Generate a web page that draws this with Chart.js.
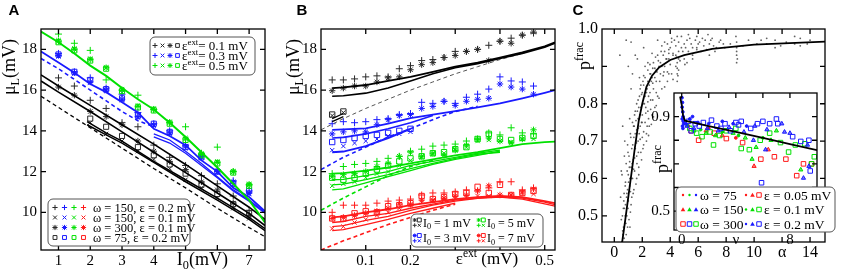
<!DOCTYPE html>
<html>
<head>
<meta charset="utf-8" />
<title>mu_L and p_frac</title>
<script src="https://cdn.jsdelivr.net/npm/chart.js"></script>
<style>
  body { margin: 0; background: #fff; }
  #wrap { position: relative; width: 851px; height: 276px; overflow: hidden; }
  canvas { position: absolute; }
</style>
</head>
<body>
<div id="wrap">
  <canvas id="chartA" width="290" height="276" style="left:0;top:0"></canvas>
  <canvas id="chartB" width="288" height="276" style="left:282px;top:0"></canvas>
  <canvas id="chartC" width="281" height="276" style="left:570px;top:0"></canvas>
  <canvas id="chartI" width="210" height="170" style="left:630px;top:80px"></canvas>
</div>
<script>
// ---------- panel A : mu_L vs I0 ----------
const aX = [1, 1.5, 2, 2.5, 3, 3.5, 4, 4.5, 5, 5.5, 6, 6.5, 7];
const aX2 = [2, 2.5, 3, 3.5, 4, 4.5, 5, 5.5, 6, 6.5, 7];
const aGreenPlus = [18.75, 18.3, 17.95, 16.5, 16.0, 15.75, 15.05, 14.4, 14.2, 12.9, 13.2, 12.0, 11.35];
const aGreenStar = [18.4, 18.0, 17.5, 17.1, 16.0, 15.2, 15.05, 14.4, 13.6, 12.85, 12.45, 12.0, 11.35];
const aGreenSq = [18.35, 17.95, 17.45, 17.05, 15.95, 15.15, 15.0, 14.35, 13.55, 12.8, 12.4, 11.95, 11.3];
const aGreenX = [18.45, 18.05, 17.55, 17.1, 16.05, 15.25, 15.1, 14.45, 13.65, 12.9, 12.5, 12.0, 11.4];
const aBluePlus = [17.8, 16.9, 16.6, 16.1, 15.8, 14.9, 14.35, 14.0, 13.3, 12.85, 12.1, 11.55, 11.05];
const aBlueStar = [17.7, 16.85, 16.4, 16.0, 15.55, 14.7, 14.3, 13.9, 13.25, 12.75, 12.0, 11.5, 10.95];
const aBlueSq = [17.75, 16.9, 16.5, 16.05, 15.6, 14.75, 14.35, 13.95, 13.2, 12.7, 12.0, 11.4, 11.05];
const aBlueX = [17.65, 16.8, 16.35, 15.95, 15.5, 14.65, 14.25, 13.85, 13.15, 12.7, 11.95, 11.35, 10.9];
const aBlackPlus = [16.6, 16.2, 15.5, 15.1, 14.4, 14.2, 13.3, 12.7, 12.3, 11.8, 11.4, 10.8, 10.1];
const aBlackStar = [16.15, 15.75, 14.95, 14.7, 14.3, 13.5, 13.0, 12.5, 12.1, 11.5, 11.1, 10.45, 9.85];
const aBlackSq = [14.6, 14.2, 13.75, 13.2, 12.8, 12.35, 11.9, 11.35, 10.9, 10.4, 9.95];
const aBlackX = [14.4, 13.85, 13.5, 13.0, 12.6, 12.15, 11.6, 11.2, 10.7, 10.2, 9.7];

const aLineX = [0.45, 1, 1.5, 2, 2.5, 3, 3.5, 4, 4.5, 5, 5.5, 6, 6.5, 7, 7.5];
const aGreenLine = [18.87, 18.35, 17.8, 17.2, 16.7, 16.1, 15.55, 15.05, 14.4, 13.7, 12.95, 12.2, 11.4, 10.6, 9.5];
const aBlueLine = [17.9, 17.35, 16.85, 16.3, 15.9, 15.4, 14.9, 14.1, 13.75, 13.3, 12.55, 12.0, 11.2, 10.75, 10.05];
const aBlueLateX = [4, 4.5, 5, 5.5, 6, 6.5, 7, 7.5];
const aBlueLate1 = [13.85, 13.55, 13.0, 12.4, 11.75, 11.1, 10.6, 10.0];
const aBlueLate2 = [13.7, 13.4, 12.9, 12.3, 11.7, 11.05, 10.55, 9.95];
const aBlueDashX = [0.45, 1, 2, 3, 3.5, 4];
const aBlueDash = [17.55, 17.05, 16.0, 14.95, 14.5, 14.2];
const aBlackX9 = [0.45, 1, 2, 3, 4, 5, 6, 7, 7.5];
const aBlack1 = [16.75, 16.2, 15.25, 14.3, 13.35, 12.35, 11.3, 10.25, 9.65];
const aBlack2 = [16.45, 15.9, 14.95, 13.95, 12.95, 11.95, 10.95, 9.95, 9.35];
const aBlackLateX = [1.9, 2.5, 3, 4, 5, 6, 7, 7.5];
const aBlack3 = [14.45, 13.9, 13.5, 12.5, 11.6, 10.7, 9.75, 9.2];
const aBlack4 = [14.3, 13.8, 13.4, 12.45, 11.5, 10.6, 9.65, 9.1];
const aBlackDash = [15.7, 15.15, 14.15, 13.15, 12.15, 11.2, 10.2, 9.25, 8.8];
const aXTicks = [1, 2, 3, 4, 5, 6, 7];
const aYTicks = [10, 12, 14, 16, 18];

// ---------- panel B : mu_L vs eps_ext ----------
const epsB = [0.025, 0.05, 0.075, 0.1, 0.125, 0.15, 0.175, 0.2, 0.225, 0.25, 0.275, 0.3, 0.325, 0.35, 0.375, 0.4, 0.425, 0.45, 0.475];
const bBlackPlus = [16.5, 16.5, 16.55, 16.65, 16.7, 16.65, 17.05, 17.2, 17.45, 17.5, 17.6, 17.9, 17.9, 18.0, 18.2, 18.4, 18.55, 18.7, 18.8];
const bBlackStar = [15.97, 16.1, 16.2, 16.2, 16.4, 16.6, 16.65, 17.0, 17.25, 17.35, 17.6, 17.7, 17.9, 18.0, 17.45, 18.4, 18.3, 18.7, 18.85];
const bBlackSq = [14.8, 14.95];
const bBlackX = [14.75, 14.9];
const bBluePlus = [14.35, 14.45, 14.4, 14.45, 14.55, 14.6, 14.8, 14.85, 15.4, 15.35, 15.45, 15.35, 15.65, 15.8, 16.05, 16.65, 16.45, 16.4, 16.2];
const bBlueStar = [13.85, 13.95, 14.0, 13.95, 14.3, 14.55, 14.75, 14.8, 15.1, 15.2, 15.45, 15.25, 15.45, 15.55, 15.6, 16.3, 16.15, 16.05, 15.8];
const bBlueSq = [13.45, 13.55, 13.65, 13.75, 13.8, 13.9, 14.0, 14.1];
const bBlueX = [13.05, 13.25, 13.4, 13.5, 13.6, 13.75, 13.85, 13.95];
const bGreenPlus = [11.9, 12.25, 12.35, 12.4, 12.5, 12.65, 12.75, 13.0, 13.1, 13.25, 13.3, 13.35, 13.5, 13.6, 13.9, 13.8, 14.15, 13.9, 13.85];
const bGreenStar = [11.75, 11.85, 11.9, 12.0, 12.25, 12.4, 12.75, 12.95, 12.75, 12.9, 12.8, 13.05, 13.3, 13.6, 13.65, 13.5, 13.4, 13.6, 14.05];
const bGreenSq = [11.7, 11.6, 11.7, 11.9, 12.1, 12.3, 12.5, 12.65, 12.75, 12.9, 12.95, 13.1, 13.2, 13.6, 13.85, 13.6, 13.55, 13.65, 13.75];
const bGreenX = [11.3, 11.4, 11.5, 11.7, 11.9, 12.0, 12.3, 12.55, 12.7, 12.85, 12.9, 13.1, 13.2, 13.5, 13.55, 13.5, 13.45, 13.6, 13.6];
const bRedPlus = [10.0, 10.35, 10.35, 10.35, 10.45, 10.55, 10.6, 10.65, 10.85, 10.95, 10.95, 11.0, 11.1, 11.05, 11.2, 11.5, 11.5, 11.1, 11.2];
const bRedStar = [9.7, 9.75, 9.85, 9.95, 10.05, 10.2, 10.4, 10.4, 10.6, 10.6, 10.7, 10.8, 10.85, 11.05, 11.3, 10.85, 10.85, 11.0, 11.15];
const bRedSq = [9.7, 9.7, 9.95, 10.05, 10.0, 10.3, 10.35, 10.45, 10.8, 10.65, 10.75, 10.9, 10.95, 11.25, 10.95, 11.35, 10.85, 10.95, 11.05];
const bRedX = [9.2, 9.3, 9.5, 9.65, 9.85, 10.0, 10.2, 10.35, 10.5, 10.55, 10.6, 10.7, 10.75, 10.8, 10.8, 10.85, 10.85, 10.95, 10.9];

const bLineX = [0.025, 0.05, 0.1, 0.15, 0.2, 0.25, 0.3, 0.35, 0.4, 0.45, 0.5, 0.523];
const bBlackTop = [16.1, 16.13, 16.25, 16.45, 16.65, 16.9, 17.15, 17.35, 17.6, 17.85, 18.15, 18.35];
const bBlackLow = [15.7, 15.72, 15.85, 16.1, 16.45, 16.8, 17.1, 17.3, 17.55, 17.8, 18.1, 18.3];
const bShortX = [0.025, 0.05];
const bBlackShort1 = [14.45, 14.7];
const bBlackShort2 = [14.6, 14.85];
const bDashX = [0, 0.05, 0.1, 0.15, 0.2, 0.25, 0.3, 0.35, 0.4, 0.45, 0.523];
const bBlackDash = [14.05, 14.6, 15.1, 15.55, 16.0, 16.4, 16.8, 17.15, 17.5, 17.8, 18.3];
const bBlueTop = [14.05, 14.07, 14.12, 14.35, 14.62, 14.8, 14.97, 15.15, 15.35, 15.6, 15.87, 16.0];
const bBlueMidX = [0.025, 0.05, 0.1, 0.15, 0.2, 0.25];
const bBlueMid = [13.65, 13.68, 13.85, 14.1, 14.4, 14.75];
const bBlueLowX = [0.025, 0.05, 0.1, 0.15, 0.2];
const bBlueLow = [12.95, 12.98, 13.25, 13.65, 14.1];
const bBlueDashX = [0, 0.05, 0.1, 0.15, 0.2, 0.25, 0.3, 0.35];
const bBlueDash = [12.1, 12.7, 13.2, 13.7, 14.1, 14.55, 14.95, 15.2];
const bGreenTop = [11.9, 11.92, 12.05, 12.2, 12.4, 12.6, 12.8, 12.95, 13.15, 13.35, 13.45, 13.47];
const bGreenX9 = [0.025, 0.05, 0.1, 0.15, 0.2, 0.25, 0.3, 0.35, 0.4];
const bGreen2 = [11.6, 11.62, 11.8, 12.0, 12.3, 12.5, 12.7, 12.9, 13.05];
const bGreen3 = [11.35, 11.38, 11.6, 11.85, 12.15, 12.4, 12.65, 12.85, 12.95];
const bGreen4 = [11.1, 11.15, 11.45, 11.75, 12.05, 12.35, 12.6, 12.8, 13.0];
const bGreenDashX = [0, 0.05, 0.1, 0.15, 0.2, 0.25];
const bGreenDash = [10.1, 10.7, 11.25, 11.8, 12.25, 12.55];
const bRedTop = [9.75, 9.8, 10.0, 10.15, 10.35, 10.5, 10.65, 10.75, 10.8, 10.75, 10.55, 10.45];
const bRed2 = [9.5, 9.55, 9.8, 9.95, 10.2, 10.4, 10.6, 10.7, 10.78, 10.7, 10.5, 10.38];
const bRed3 = [9.3, 9.35, 9.6, 9.8, 10.1, 10.35, 10.55, 10.68, 10.75, 10.65, 10.42, 10.3];
const bRed4X = [0.025, 0.05, 0.1, 0.15, 0.2, 0.25, 0.3];
const bRed4 = [9.1, 9.15, 9.4, 9.65, 9.95, 10.2, 10.45];
const bRedDashX = [0, 0.05, 0.1, 0.15, 0.2, 0.25, 0.3];
const bRedDash = [8.15, 8.6, 9.0, 9.4, 9.75, 10.1, 10.4];
const bXTicks = [0.1, 0.2, 0.3, 0.4, 0.5];
const bXLabelled = [0.1, 0.2, 0.5];

// ---------- panel C : p_frac vs alpha ----------
const cCurveX = [0.45, 0.75, 1.0, 1.25, 1.5, 1.75, 2.0, 2.3, 2.7, 3.2, 4.0, 5.0, 7.0, 10.0, 15.1];
const cCurveY = [0.40, 0.48, 0.55, 0.62, 0.69, 0.755, 0.80, 0.845, 0.875, 0.897, 0.917, 0.93, 0.947, 0.958, 0.966];
const cCloud = [
  [0.55,0.43],[0.7,0.44],[0.85,0.45],[0.6,0.46],[0.95,0.47],[0.75,0.48],[1.05,0.49],[0.5,0.49],[0.9,0.50],[1.15,0.51],
  [0.65,0.52],[0.8,0.53],[1.0,0.54],[1.25,0.55],[0.7,0.56],[0.95,0.57],[1.4,0.57],[1.1,0.58],[0.8,0.59],[1.3,0.60],
  [1.6,0.60],[0.55,0.61],[1.0,0.61],[1.45,0.62],[1.2,0.63],[1.75,0.63],[0.85,0.64],[1.35,0.65],[1.6,0.66],[1.05,0.66],
  [1.9,0.67],[1.25,0.68],[1.5,0.68],[2.1,0.69],[0.95,0.69],[1.7,0.70],[1.4,0.71],[2.0,0.71],[1.15,0.72],[2.3,0.72],
  [1.6,0.73],[1.85,0.74],[2.5,0.74],[1.3,0.75],[2.2,0.75],[1.7,0.76],[2.0,0.77],[2.7,0.77],[1.5,0.78],[2.4,0.78],
  [1.9,0.79],[2.9,0.79],[2.15,0.80],[1.6,0.80],[2.6,0.81],[1.8,0.82],[3.1,0.82],[2.3,0.83],[2.0,0.83],[2.8,0.84],
  [3.4,0.84],[1.9,0.85],[2.5,0.85],[3.0,0.86],[3.8,0.86],[2.2,0.87],[2.7,0.87],[3.3,0.88],[4.1,0.88],[2.4,0.89],
  [3.0,0.89],[3.6,0.90],[4.4,0.90],[2.8,0.91],[3.3,0.91],[3.9,0.92],[5.0,0.92],[4.4,0.93],[3.1,0.93],[3.6,0.94],
  [5.3,0.94],[4.0,0.95],[4.6,0.94],[5.6,0.95],[6.2,0.94],[6.8,0.96],[7.3,0.95],[5.0,0.96],[4.3,0.97],[5.8,0.97],
  [6.5,0.97],[7.6,0.97],[4.8,0.98],[5.4,0.975],[6.0,0.96],[7.0,0.975],[3.8,0.96],[3.4,0.955],[4.2,0.93],[4.5,0.86],
  [4.5,0.88],[4.5,0.895],[4.5,0.91],[8.7,0.98],[8.75,0.965],[8.75,0.95],[8.75,0.94],[8.75,0.93],[8.8,0.92],[10.9,0.975],
  [10.9,0.96],[11.5,0.97],[11.5,0.95],[12.9,0.98],[12.9,0.96],[13.3,0.975],[13.3,0.955],[9.6,0.97],[10.2,0.96],[0.85,0.97],
  [1.3,0.88],[1.0,0.90],[1.5,0.93],[0.6,0.74],[0.5,0.62],[0.75,0.70],[2.4,0.91],[1.2,0.84],[3.9,0.88],[5.6,0.92],
  [6.8,0.93],[0.62,0.45],[0.78,0.5],[0.88,0.55],[1.12,0.6],[1.28,0.64],[1.55,0.7],[1.78,0.72],[1.95,0.75],[2.25,0.79],
  [2.45,0.82],[2.65,0.86],[3.2,0.9],[3.7,0.92],[4.8,0.95],[5.2,0.97],[6.4,0.955],[7.8,0.96],[0.72,0.52],[1.08,0.63],
  [1.42,0.74],[1.65,0.78],[2.05,0.86],[2.55,0.88],[2.9,0.895],[3.5,0.93],[4.1,0.965],[4.7,0.915],[5.9,0.945],[7.2,0.94],
  [0.48,0.42],[0.66,0.47],[0.83,0.48],[1.12,0.47],[0.58,0.5],[0.98,0.52],[1.2,0.53],[0.68,0.54],[1.35,0.56],[0.9,0.56],
  [1.15,0.565],[0.78,0.58],[1.55,0.585],[1.02,0.59],[1.22,0.6],[1.75,0.61],[0.92,0.62],[1.38,0.625],[1.62,0.64],[1.1,0.645],
  [1.95,0.65],[1.45,0.655],[0.98,0.67],[1.72,0.67],[2.05,0.68],[1.32,0.69],[1.58,0.695],[2.3,0.70],[1.85,0.705],[1.18,0.71],
  [2.45,0.715],[1.5,0.72],[2.1,0.725],[1.72,0.735],[2.35,0.74],[1.38,0.74],[2.65,0.745],[1.98,0.75],[1.55,0.755],[2.45,0.76],
  [2.8,0.765],[1.82,0.77],[2.25,0.775],[1.45,0.77],[2.6,0.785],[1.75,0.79],[3.0,0.795],[2.05,0.80],[2.4,0.805],[2.75,0.81],
  [1.7,0.81],[3.2,0.815],[2.2,0.82],[1.95,0.825],[2.55,0.83],[3.0,0.83],[2.35,0.84],[3.6,0.845],[1.85,0.84],[2.1,0.85],
  [2.75,0.855],[3.25,0.86],[2.4,0.86],[4.2,0.865],[2.9,0.87],[3.5,0.875],[2.1,0.875],[2.6,0.88],[3.8,0.885],[3.05,0.885],
  [4.6,0.89],[2.75,0.895],[3.4,0.9],[4.0,0.905],[2.55,0.905],[5.2,0.91],[3.15,0.915],[3.75,0.92],[4.6,0.92],[2.95,0.925],
  [4.2,0.935],[5.6,0.93],[3.35,0.94],[4.9,0.94],[3.9,0.945],[5.9,0.95],[6.6,0.945],[4.4,0.955],[5.1,0.95],[7.1,0.955],
  [6.1,0.965],[3.6,0.965],[4.6,0.965],[5.5,0.96],[7.5,0.965],[6.9,0.97],[5.9,0.98],[4.1,0.975],[6.3,0.975],[7.9,0.95],
  [5.3,0.985],[4.5,0.98],[3.9,0.935],[6.7,0.985],[2.2,0.9],[1.8,0.87],[1.1,0.76],[0.72,0.66],[0.45,0.55],[1.65,0.92],
  [2.1,0.95],[1.2,0.965],[0.4,0.93],[3.1,0.97],[2.7,0.935],[8.3,0.96],[9.2,0.955],[10.5,0.97],[12.3,0.965],[14.0,0.97],
  [11.9,0.955],[13.8,0.96],[8.75,0.91],[4.55,0.875],[4.45,0.925],[5.05,0.905],[3.55,0.885]
];
const cXTicks = [0, 2, 4, 6, 8, 10, 12, 14];
const cYTicks = [0.5, 0.6, 0.7, 0.8, 0.9, 1.0];

// ---------- inset of C : p_frac vs nu ----------
const iLineX = [-0.12, 0.0, 0.1, 0.24, 2, 4, 6, 8, 10];
const iLineY = [0.985, 0.95, 0.905, 0.883, 0.86, 0.835, 0.81, 0.784, 0.758];
const iBlueDot = [[0.02,0.98],[0.05,0.96],[0.03,0.94],[0.08,0.92],[0.1,0.90],[0.04,0.89],[0.12,0.88],[0.06,0.86],[0.15,0.87],[0.09,0.85],[0.3,0.87],[0.6,0.89],[1.2,0.875],[2.0,0.87],[3.0,0.88],[3.8,0.87],[4.8,0.86],[0.8,0.90]];
const iBlueSq = [[0.5,0.88],[1.0,0.87],[1.6,0.875],[2.2,0.885],[2.6,0.86],[3.2,0.87],[4.0,0.875],[4.4,0.88],[5.1,0.85],[5.6,0.87],[6.5,0.87],[7.1,0.87],[8.2,0.815],[8.8,0.795],[9.4,0.80],[9.5,0.67],[5.9,0.62],[6.0,0.88],[7.0,0.89],[4.2,0.865],[1.3,0.86],[2.9,0.85],[3.6,0.84],[0.7,0.84]];
const iBlueTri = [[0.4,0.86],[0.9,0.85],[1.9,0.85],[2.7,0.84],[3.5,0.855],[4.6,0.835],[5.4,0.86],[6.3,0.845],[7.6,0.835],[7.4,0.87],[8.0,0.83],[9.0,0.64],[9.4,0.69],[6.2,0.76],[5.3,0.80],[9.3,0.78]];
const iGreenSq = [[0.6,0.85],[1.5,0.815],[2.35,0.78],[2.1,0.835],[3.3,0.84],[4.4,0.765],[5.0,0.76],[6.5,0.83],[7.3,0.79],[7.9,0.75],[8.4,0.78],[9.1,0.785],[9.8,0.73],[9.6,0.70],[4.0,0.85],[5.8,0.80],[2.8,0.82],[1.1,0.83]];
const iGreenTri = [[0.9,0.84],[1.8,0.83],[2.5,0.82],[3.8,0.83],[4.7,0.81],[5.5,0.77],[6.6,0.80],[7.0,0.84],[8.8,0.675],[5.2,0.72]];
const iGreenDot = [[0.4,0.865],[1.4,0.845],[3.0,0.835],[4.2,0.82],[6.0,0.81]];
const iRedSq = [[1.25,0.80],[3.3,0.807],[4.5,0.79],[5.85,0.72],[6.85,0.73],[7.7,0.72],[9.0,0.70],[8.5,0.65],[9.6,0.70],[2.4,0.83],[0.7,0.84]];
const iRedTri = [[5.35,0.69],[1.8,0.84],[3.0,0.82],[6.4,0.76]];
const iRedDot = [[0.5,0.86],[2.0,0.85],[4.0,0.81]];
const iXTicks = [0, 2, 4, 6, 8, 10];
const iYTicks = [0.5, 0.6, 0.7, 0.8, 0.9];

// colours
const BLK = '#2a2a2a', BLU = '#1a1aff', GRN = '#00e000', RED = '#ff1a1a';
const SERIF = '"Liberation Serif", "DejaVu Serif", serif';

function pts(xs, ys) { return xs.map((x, i) => ({ x: x, y: ys[i] })); }
function pairs(list) { return list.map(p => ({ x: p[0], y: p[1] })); }

function line(xs, ys, color, width, dash) {
    return { data: pts(xs, ys), showLine: true, pointRadius: 0, borderColor: color, borderWidth: width || 1.6, borderDash: dash || [], fill: false };
}
function marks(data, color, style, r, fillCol) {
    return { data: data, showLine: false, pointStyle: style, pointRadius: r || 3, borderColor: color, backgroundColor: fillCol || 'rgba(0,0,0,0)', borderWidth: 1 };
}

// text with sub / superscripts, parts = [[text, 0 normal | 1 sub | 2 sup]]
function rich(ctx, parts, x, y, size, align, rot) {
    ctx.save();
    ctx.translate(x, y);
    if (rot) ctx.rotate(rot);
    ctx.fillStyle = '#000';
    ctx.textBaseline = 'alphabetic';
    ctx.textAlign = 'left';
    const fonts = parts.map(p => (p[1] ? size * 0.68 : size) + 'px ' + SERIF);
    let w = 0;
    parts.forEach((p, i) => { ctx.font = fonts[i]; w += ctx.measureText(p[0]).width; });
    let cx = align === 'center' ? -w / 2 : (align === 'right' ? -w : 0);
    parts.forEach((p, i) => {
        ctx.font = fonts[i];
        const dy = p[1] === 1 ? size * 0.22 : (p[1] === 2 ? -size * 0.4 : 0);
        ctx.fillText(p[0], cx, dy + size * 0.35);
        cx += ctx.measureText(p[0]).width;
    });
    ctx.restore();
}

// legend marker
function mark(ctx, style, x, y, r, color) {
    ctx.save();
    ctx.strokeStyle = color; ctx.fillStyle = color; ctx.lineWidth = 1;
    ctx.beginPath();
    if (style === 'cross' || style === 'star') { ctx.moveTo(x - r, y); ctx.lineTo(x + r, y); ctx.moveTo(x, y - r); ctx.lineTo(x, y + r); }
    if (style === 'crossRot' || style === 'star') { const d = r * 0.75; ctx.moveTo(x - d, y - d); ctx.lineTo(x + d, y + d); ctx.moveTo(x - d, y + d); ctx.lineTo(x + d, y - d); }
    if (style === 'rect') { const d = r * 0.75; ctx.rect(x - d, y - d, 2 * d, 2 * d); }
    ctx.stroke();
    if (style === 'circle') { ctx.beginPath(); ctx.arc(x, y, r, 0, Math.PI * 2); ctx.fill(); }
    if (style === 'triangle') { ctx.beginPath(); ctx.moveTo(x, y - r); ctx.lineTo(x + r, y + r * 0.8); ctx.lineTo(x - r, y + r * 0.8); ctx.closePath(); ctx.fill(); }
    ctx.restore();
}

function box(ctx, x, y, w, h) {
    ctx.save();
    ctx.beginPath();
    ctx.roundRect(x, y, w, h, 5);
    ctx.fillStyle = '#fff'; ctx.fill();
    ctx.strokeStyle = '#555'; ctx.lineWidth = 1; ctx.stroke();
    ctx.restore();
}

function letter(ctx, s, x, y) {
    ctx.save();
    ctx.font = 'bold 15px "Liberation Sans", Arial, sans-serif';
    ctx.fillStyle = '#000'; ctx.textBaseline = 'middle'; ctx.textAlign = 'center';
    ctx.fillText(s, x, y);
    ctx.restore();
}

// box around the plot with inward ticks on all sides
const frame = {
    id: 'frame',
    beforeDatasetsDraw(chart, args, opts) {
        if (!opts.white) return;
        const a = chart.chartArea, ctx = chart.ctx;
        ctx.save(); ctx.fillStyle = '#fff'; ctx.fillRect(a.left, a.top, a.right - a.left, a.bottom - a.top); ctx.restore();
    },
    afterDatasetsDraw(chart, args, opts) {
        const a = chart.chartArea, ctx = chart.ctx, x = chart.scales.x, y = chart.scales.y;
        const t = opts.tick || 5;
        ctx.save();
        ctx.strokeStyle = '#000'; ctx.lineWidth = 1.3;
        ctx.strokeRect(a.left, a.top, a.right - a.left, a.bottom - a.top);
        ctx.beginPath();
        x.ticks.forEach(k => {
            const p = x.getPixelForValue(k.value);
            if (p > a.left + 1 && p < a.right - 1) { ctx.moveTo(p, a.bottom); ctx.lineTo(p, a.bottom - t); ctx.moveTo(p, a.top); ctx.lineTo(p, a.top + t); }
        });
        y.ticks.forEach(k => {
            const p = y.getPixelForValue(k.value);
            if (p > a.top + 1 && p < a.bottom - 1) { ctx.moveTo(a.left, p); ctx.lineTo(a.left + t, p); ctx.moveTo(a.right, p); ctx.lineTo(a.right - t, p); }
        });
        ctx.stroke();
        ctx.restore();
    }
};
Chart.register(frame);

function makeChart(id, geo, sx, sy, datasets, deco, white) {
    const cv = document.getElementById(id);
    return new Chart(cv.getContext('2d'), {
        type: 'scatter',
        data: { datasets: datasets },
        options: {
            responsive: false, animation: false, devicePixelRatio: 1,
            layout: { autoPadding: false, padding: { left: 0, top: geo.top, right: cv.width - geo.right, bottom: 0 } },
            plugins: { legend: { display: false }, tooltip: { enabled: false }, frame: { white: white } },
            elements: { line: { tension: 0 } },
            scales: {
                x: {
                    type: 'linear', min: sx.min, max: sx.max,
                    afterBuildTicks: s => { s.ticks = sx.ticks.map(v => ({ value: v })); },
                    afterFit: s => { s.height = cv.height - geo.bottom; },
                    grid: { display: false, drawTicks: false }, border: { display: false },
                    ticks: { autoSkip: false, maxRotation: 0, padding: sx.pad, color: '#000', font: { family: SERIF, size: sx.size }, callback: sx.label }
                },
                y: {
                    type: 'linear', min: sy.min, max: sy.max,
                    afterBuildTicks: s => { s.ticks = sy.ticks.map(v => ({ value: v })); },
                    afterFit: s => { s.width = geo.left; },
                    grid: { display: false, drawTicks: false }, border: { display: false },
                    ticks: { autoSkip: false, padding: sy.pad, color: '#000', font: { family: SERIF, size: sy.size }, callback: sy.label }
                }
            }
        },
        plugins: [{ id: 'deco', afterDraw: deco }]
    });
}

// ---------- A ----------
makeChart('chartA', { left: 41, right: 265, top: 29, bottom: 250 },
    { min: 0.45, max: 7.5, ticks: aXTicks, pad: 2, size: 15, label: v => (v === 5 || v === 6) ? '' : v },
    { min: 8.15, max: 19.0, ticks: aYTicks, pad: 4, size: 15, label: v => v },
    [
        line(aLineX, aGreenLine, GRN, 2),
        line(aLineX, aBlueLine, BLU, 1.8),
        line(aBlueLateX, aBlueLate1, BLU, 1.3),
        line(aBlueLateX, aBlueLate2, BLU, 1.3),
        line(aBlueDashX, aBlueDash, BLU, 1.6, [4, 3]),
        line(aBlackX9, aBlack1, '#000', 1.6),
        line(aBlackX9, aBlack2, '#000', 1.6),
        line(aBlackLateX, aBlack3, '#000', 1.5),
        line(aBlackLateX, aBlack4, '#000', 1.5),
        line(aBlackX9, aBlackDash, '#000', 1.3, [4, 3]),
        marks(pts(aX, aGreenPlus), GRN, 'cross', 3.5),
        marks(pts(aX, aGreenStar), GRN, 'star', 3.2),
        marks(pts(aX, aGreenSq), GRN, 'rect', 3.6),
        marks(pts(aX, aGreenX), GRN, 'crossRot', 3),
        marks(pts(aX, aBluePlus), BLU, 'cross', 3.5),
        marks(pts(aX, aBlueStar), BLU, 'star', 3.2),
        marks(pts(aX, aBlueSq), BLU, 'rect', 3.6),
        marks(pts(aX, aBlueX), BLU, 'crossRot', 3),
        marks(pts(aX, aBlackPlus), BLK, 'cross', 3.5),
        marks(pts(aX, aBlackStar), BLK, 'star', 3.2),
        marks(pts(aX2, aBlackSq), BLK, 'rect', 3.6),
        marks(pts(aX2, aBlackX), BLK, 'crossRot', 3)
    ],
    chart => {
        const ctx = chart.ctx, x = chart.scales.x;
        letter(ctx, 'A', 14, 11);
        rich(ctx, [['μ', 0], ['L', 1], ['(mV)', 0]], 9, 67, 18, 'center', -Math.PI / 2);
        rich(ctx, [['I', 0], ['0', 1], ['(mV)', 0]], x.getPixelForValue(5.53), 259, 18, 'center');
        // legend: eps_ext colours
        box(ctx, 150, 37, 105, 38);
        const cols = [BLK, BLU, GRN], epsTxt = ['= 0.1 mV', '= 0.3 mV', '= 0.5 mV'];
        cols.forEach((c, i) => {
            const yy = 45.5 + i * 10;
            ['cross', 'crossRot', 'star', 'rect'].forEach((s, j) => mark(ctx, s, 155 + j * 7.5, yy, 2.5, c));
            rich(ctx, [['ε', 0], ['ext', 2], [epsTxt[i], 0]], 182, yy, 13, 'left');
        });
        // legend: marker shapes
        box(ctx, 48, 199, 142, 47);
        const shapes = ['cross', 'crossRot', 'star', 'rect'];
        const shapeTxt = ['ω = 150, ε = 0.2 mV', 'ω = 150, ε = 0.1 mV', 'ω = 300, ε = 0.1 mV', 'ω = 75, ε = 0.2 mV'];
        shapes.forEach((s, i) => {
            const yy = 207.5 + i * 10;
            [BLK, BLU, GRN, RED].forEach((c, j) => mark(ctx, s, 55 + j * 9.5, yy, 2.6, c));
            rich(ctx, [[shapeTxt[i], 0]], 93, yy, 12.5, 'left');
        });
    });

// ---------- B ----------
const e8 = epsB.slice(0, 8), e2 = epsB.slice(0, 2);
makeChart('chartB', { left: 39, right: 273, top: 29, bottom: 250 },
    { min: 0, max: 0.523, ticks: bXTicks, pad: 2, size: 15, label: v => bXLabelled.includes(v) ? v : '' },
    { min: 8.15, max: 19.0, ticks: aYTicks, pad: 4, size: 15, label: v => v },
    [
        line(bLineX, bBlackTop, '#000', 1.8),
        line(bLineX, bBlackLow, '#000', 1.6),
        line(bShortX, bBlackShort1, '#000', 1.3),
        line(bShortX, bBlackShort2, '#000', 1.3),
        line(bDashX, bBlackDash, '#555', 1, [4, 3]),
        line(bLineX, bBlueTop, BLU, 1.8),
        line(bBlueMidX, bBlueMid, BLU, 1.6),
        line(bBlueLowX, bBlueLow, BLU, 2),
        line(bBlueDashX, bBlueDash, BLU, 1.6, [4, 3]),
        line(bLineX, bGreenTop, GRN, 1.8),
        line(bGreenX9, bGreen2, GRN, 1.3),
        line(bGreenX9, bGreen3, GRN, 1.3),
        line(bGreenX9, bGreen4, GRN, 1.3),
        line(bGreenDashX, bGreenDash, GRN, 1.6, [4, 3]),
        line(bLineX, bRedTop, RED, 1.8),
        line(bLineX, bRed2, RED, 1.3),
        line(bLineX, bRed3, RED, 1.3),
        line(bRed4X, bRed4, RED, 1.3),
        line(bRedDashX, bRedDash, RED, 1.6, [4, 3]),
        marks(pts(epsB, bBlackPlus), BLK, 'cross', 3.5),
        marks(pts(epsB, bBlackStar), BLK, 'star', 3.2),
        marks(pts(e2, bBlackSq), BLK, 'rect', 3.8),
        marks(pts(e2, bBlackX), BLK, 'crossRot', 3),
        marks(pts(epsB, bBluePlus), BLU, 'cross', 3.5),
        marks(pts(epsB, bBlueStar), BLU, 'star', 3.2),
        marks(pts(e8, bBlueSq), BLU, 'rect', 3.8),
        marks(pts(e8, bBlueX), BLU, 'crossRot', 3),
        marks(pts(epsB, bGreenPlus), GRN, 'cross', 3.5),
        marks(pts(epsB, bGreenStar), GRN, 'star', 3.2),
        marks(pts(epsB, bGreenSq), GRN, 'rect', 3.8),
        marks(pts(epsB, bGreenX), GRN, 'crossRot', 3),
        marks(pts(epsB, bRedPlus), RED, 'cross', 3.5),
        marks(pts(epsB, bRedStar), RED, 'star', 3.2),
        marks(pts(epsB, bRedSq), RED, 'rect', 3.8),
        marks(pts(epsB, bRedX), RED, 'crossRot', 3)
    ],
    chart => {
        const ctx = chart.ctx, x = chart.scales.x;
        letter(ctx, 'B', 20, 11);
        rich(ctx, [['μ', 0], ['L', 1], ['(mV)', 0]], 11, 67, 18, 'center', -Math.PI / 2);
        rich(ctx, [['ε', 0], ['ext', 2], [' (mV)', 0]], x.getPixelForValue(0.371), 258, 17, 'center');
        box(ctx, 129, 214, 132, 33);
        const items = [[BLK, '1', 0, 0], [GRN, '5', 1, 0], [BLU, '3', 0, 1], [RED, '7', 1, 1]];
        items.forEach(it => {
            const bx = 135 + it[2] * 64, by = 222.5 + it[3] * 15.5;
            mark(ctx, 'star', bx - 2.3, by - 2.5, 2, it[0]);
            mark(ctx, 'rect', bx + 2.3, by - 2.5, 2.6, it[0]);
            mark(ctx, 'cross', bx - 2.3, by + 2.8, 2, it[0]);
            mark(ctx, 'crossRot', bx + 2.3, by + 2.8, 2, it[0]);
            rich(ctx, [['I', 0], ['0', 1], [' = ' + it[1] + ' mV', 0]], bx + 6, by, 12, 'left');
        });
    });

// ---------- C ----------
makeChart('chartC', { left: 32, right: 255, top: 29, bottom: 242 },
    { min: -0.88, max: 15.07, ticks: cXTicks, pad: 1, size: 16, label: v => v === 12 ? 'α' : v },
    { min: 0.43, max: 1.0, ticks: cYTicks, pad: 4, size: 16, label: v => (Math.abs(v - 0.9) < 1e-6) ? '' : v.toFixed(1) },
    [
        line(cCurveX, cCurveY, '#000', 1.8),
        { data: pairs(cCloud), showLine: false, pointStyle: 'circle', pointRadius: 0.9, borderWidth: 0, backgroundColor: 'rgba(60,60,60,0.8)' }
    ],
    chart => {
        const ctx = chart.ctx;
        letter(ctx, 'C', 8, 11);
        rich(ctx, [['p', 0], ['frac', 2]], 14, 56, 18, 'center', -Math.PI / 2);
    });

// ---------- inset ----------
makeChart('chartI', { left: 44, right: 187, top: 12, bottom: 150 },
    { min: -0.57, max: 10.0, ticks: iXTicks, pad: 1, size: 15, label: v => v === 0 ? '0' : (v === 4 ? 'ν' : (v === 8 ? '8' : '')) },
    { min: 0.42, max: 1.0, ticks: iYTicks, pad: 4, size: 15, label: v => (v === 0.9 || v === 0.5) ? v.toFixed(1) : '' },
    [
        line(iLineX, iLineY, '#000', 1.8),
        marks(pairs(iBlueDot), BLU, 'circle', 1.4, BLU),
        marks(pairs(iBlueSq), BLU, 'rect', 3.2),
        marks(pairs(iBlueTri), BLU, 'triangle', 2.4, 'rgba(26,26,255,0.6)'),
        marks(pairs(iGreenSq), GRN, 'rect', 3.2),
        marks(pairs(iGreenTri), GRN, 'triangle', 2.4, 'rgba(0,224,0,0.6)'),
        marks(pairs(iGreenDot), GRN, 'circle', 1.4, GRN),
        marks(pairs(iRedSq), RED, 'rect', 3.2),
        marks(pairs(iRedTri), RED, 'triangle', 2.4, 'rgba(255,26,26,0.6)'),
        marks(pairs(iRedDot), RED, 'circle', 1.4, RED)
    ],
    chart => {
        const ctx = chart.ctx;
        rich(ctx, [['p', 0], ['frac', 2]], 32, 79, 18, 'center', -Math.PI / 2);
        // legend (page x 676..835, y 187..232)
        box(ctx, 46, 107, 159, 45);
        const rowsL = [['circle', [RED, GRN, BLU], 'ω = 75'], ['triangle', [RED, GRN, BLU], 'ω = 150'], ['rect', [RED, BLU, GRN], 'ω = 300']];
        const rowsR = [[RED, 'ε = 0.05 mV'], [GRN, 'ε = 0.1 mV'], [BLU, 'ε = 0.2 mV']];
        rowsL.forEach((r, i) => {
            const yy = 115 + i * 14.5;
            r[1].forEach((c, j) => mark(ctx, r[0], 53 + j * 6.5, yy, r[0] === 'circle' ? 1.2 : (r[0] === 'rect' ? 3 : 2.3), c));
            rich(ctx, [[r[2], 0]], 70, yy, 13.5, 'left');
            ['circle', 'triangle', 'rect'].forEach((s, j) => mark(ctx, s, 116 + j * 6.5, yy, s === 'circle' ? 1.2 : (s === 'rect' ? 3 : 2.3), rowsR[i][0]));
            rich(ctx, [[rowsR[i][1], 0]], 134, yy, 13.5, 'left');
        });
    }, true);
</script>
</body>
</html>
